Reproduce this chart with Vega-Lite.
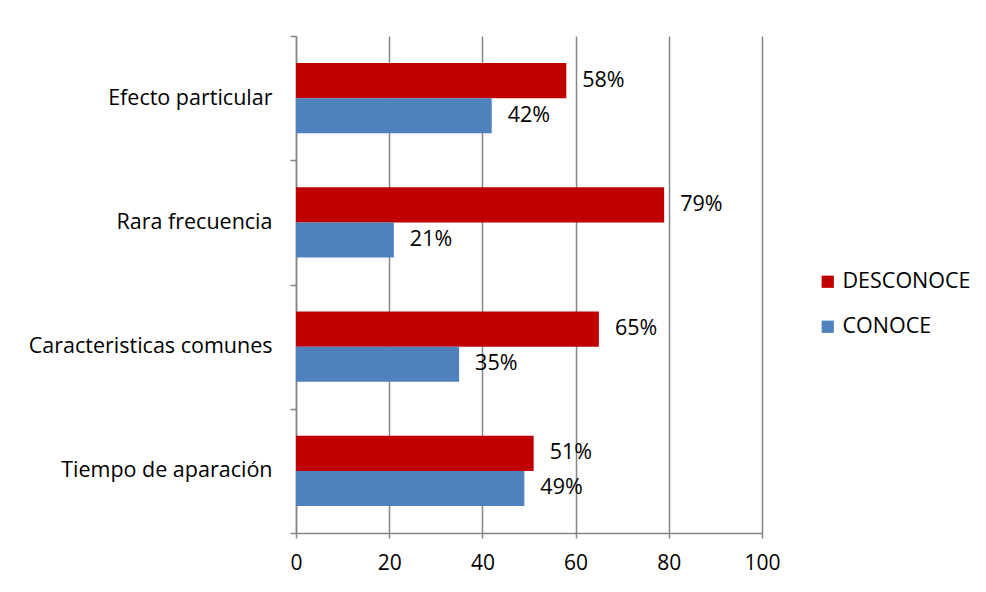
{
  "$schema": "https://vega.github.io/schema/vega-lite/v6.json",
  "width": 466,
  "height": 497,
  "autosize": "none",
  "padding": {"left": 296, "top": 36, "right": 224, "bottom": 59},
  "background": "white",
  "config": {
    "view": {"stroke": null},
    "font": "Open Sans",
    "axis": {"labelFont": "Open Sans", "labelColor": "#000000", "labelFontSize": 21.5, "domainColor": "#868686", "tickColor": "#868686", "gridColor": "#868686", "domainWidth": 1.5, "tickWidth": 1.5, "gridWidth": 1.5, "gridOpacity": 1},
    "legend": {"labelFont": "Open Sans", "labelFontSize": 21.5, "labelColor": "#000000"}
  },
  "data": {
    "values": [
      {"categoria": "Efecto particular", "grupo": "DESCONOCE", "valor": 58, "etiqueta": "58%"},
      {"categoria": "Efecto particular", "grupo": "CONOCE", "valor": 42, "etiqueta": "42%"},
      {"categoria": "Rara frecuencia", "grupo": "DESCONOCE", "valor": 79, "etiqueta": "79%"},
      {"categoria": "Rara frecuencia", "grupo": "CONOCE", "valor": 21, "etiqueta": "21%"},
      {"categoria": "Caracteristicas comunes", "grupo": "DESCONOCE", "valor": 65, "etiqueta": "65%"},
      {"categoria": "Caracteristicas comunes", "grupo": "CONOCE", "valor": 35, "etiqueta": "35%"},
      {"categoria": "Tiempo de aparación", "grupo": "DESCONOCE", "valor": 51, "etiqueta": "51%"},
      {"categoria": "Tiempo de aparación", "grupo": "CONOCE", "valor": 49, "etiqueta": "49%"}
    ]
  },
  "encoding": {
    "y": {
      "field": "categoria",
      "type": "nominal",
      "sort": ["Efecto particular", "Rara frecuencia", "Caracteristicas comunes", "Tiempo de aparación"],
      "title": null,
      "scale": {"paddingInner": 0, "paddingOuter": 0},
      "axis": {"tickBand": "extent", "tickSize": 6, "labelPadding": 18, "grid": false, "labelLimit": 300}
    },
    "yOffset": {"field": "grupo", "type": "nominal", "sort": ["DESCONOCE", "CONOCE"], "scale": {"paddingInner": 0, "paddingOuter": 0.771}},
    "x": {
      "field": "valor",
      "type": "quantitative",
      "title": null,
      "scale": {"domain": [0, 100], "nice": false},
      "axis": {"values": [0, 20, 40, 60, 80, 100], "grid": true, "tickSize": 5, "labelPadding": 14, "labelFlush": false, "labelFontSize": 21}
    }
  },
  "layer": [
    {
      "mark": {"type": "bar"},
      "encoding": {
        "color": {
          "field": "grupo",
          "type": "nominal",
          "scale": {"domain": ["DESCONOCE", "CONOCE"], "range": ["#C00000", "#4F81BD"]},
          "legend": {"title": null, "orient": "none", "legendX": 521, "legendY": 235, "symbolType": "square", "symbolSize": 150, "symbolStrokeWidth": 0, "rowPadding": 22, "labelOffset": 4}
        }
      }
    },
    {
      "mark": {"type": "text", "align": "left", "baseline": "middle", "dx": 16, "fontSize": 21.5, "font": "Open Sans", "color": "#000000"},
      "encoding": {"text": {"field": "etiqueta"}}
    }
  ]
}
